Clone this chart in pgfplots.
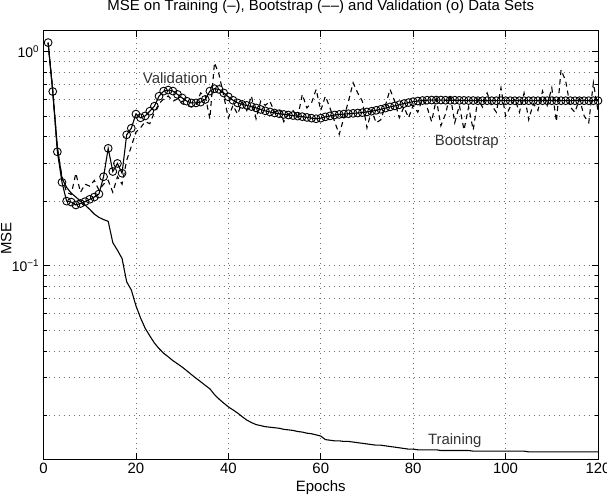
\documentclass[border=0pt]{standalone}
\usepackage{fontspec}
\setmainfont{Liberation Sans}
\usepackage{pgfplots}
\usepackage{pgfplotstable}
\pgfplotsset{compat=1.18}

\pgfplotstableread{
ep train boot val
1 1.10 1.10 1.10
2 0.65 0.66 0.65
3 0.36 0.35 0.34
4 0.255 0.26 0.245
5 0.232 0.22 0.200
6 0.218 0.215 0.198
7 0.209 0.27 0.192
8 0.200 0.22 0.195
9 0.192 0.24 0.199
10 0.183 0.235 0.204
11 0.174 0.25 0.209
12 0.168 0.225 0.216
13 0.164 0.24 0.260
14 0.161 0.25 0.353
15 0.128 0.22 0.275
16 0.118 0.26 0.300
17 0.108 0.24 0.270
18 0.084 0.31 0.408
19 0.077 0.36 0.438
20 0.065 0.42 0.510
21 0.057 0.44 0.490
22 0.051 0.47 0.500
23 0.047 0.46 0.526
24 0.0435 0.52 0.555
25 0.041 0.57 0.618
26 0.039 0.60 0.653
27 0.0375 0.62 0.660
28 0.036 0.585 0.653
29 0.0348 0.60 0.630
30 0.0336 0.57 0.607
31 0.0323 0.56 0.586
32 0.0310 0.55 0.575
33 0.0298 0.56 0.575
34 0.0287 0.64 0.580
35 0.0276 0.62 0.597
36 0.0266 0.485 0.653
37 0.0250 0.885 0.670
38 0.0238 0.78 0.665
39 0.0228 0.62 0.640
40 0.0219 0.49 0.614
41 0.0212 0.56 0.592
42 0.0205 0.51 0.575
43 0.0197 0.58 0.566
44 0.0190 0.53 0.560
45 0.0185 0.62 0.553
46 0.0181 0.485 0.545
47 0.0179 0.586 0.536
48 0.0177 0.56 0.528
49 0.0176 0.586 0.522
50 0.0175 0.52 0.516
51 0.0174 0.54 0.512
52 0.0172 0.47 0.508
53 0.0171 0.51 0.505
54 0.0170 0.53 0.502
55 0.0168 0.49 0.499
56 0.0167 0.63 0.496
57 0.0165 0.545 0.492
58 0.0164 0.575 0.488
59 0.0162 0.665 0.485
60 0.0160 0.53 0.488
61 0.0154 0.618 0.495
62 0.0153 0.545 0.500
63 0.0152 0.47 0.505
64 0.0152 0.41 0.508
65 0.0151 0.49 0.510
66 0.0151 0.586 0.512
67 0.0150 0.714 0.514
68 0.0149 0.64 0.516
69 0.0148 0.586 0.518
70 0.0147 0.44 0.522
71 0.0146 0.53 0.526
72 0.0145 0.464 0.531
73 0.0145 0.48 0.537
74 0.0144 0.56 0.544
75 0.0143 0.665 0.551
76 0.0142 0.586 0.557
77 0.0141 0.49 0.564
78 0.0140 0.55 0.571
79 0.0139 0.49 0.577
80 0.0139 0.56 0.583
81 0.0138 0.52 0.587
82 0.0138 0.60 0.590
83 0.0138 0.55 0.592
84 0.0138 0.47 0.593
85 0.0138 0.60 0.593
86 0.0137 0.45 0.593
87 0.0137 0.51 0.592
88 0.0137 0.63 0.592
89 0.0137 0.465 0.592
90 0.0137 0.56 0.591
91 0.0137 0.43 0.591
92 0.0137 0.55 0.590
93 0.0136 0.43 0.590
94 0.0136 0.60 0.589
95 0.0136 0.55 0.589
96 0.0136 0.64 0.589
97 0.0136 0.56 0.589
98 0.0136 0.52 0.589
99 0.0136 0.676 0.589
100 0.0136 0.50 0.589
101 0.0136 0.55 0.589
102 0.0136 0.60 0.589
103 0.0136 0.52 0.589
104 0.0136 0.64 0.589
105 0.0135 0.48 0.589
106 0.0135 0.57 0.589
107 0.0135 0.53 0.589
108 0.0135 0.653 0.589
109 0.0135 0.56 0.589
110 0.0135 0.676 0.589
111 0.0135 0.47 0.589
112 0.0135 0.82 0.589
113 0.0135 0.73 0.589
114 0.0135 0.55 0.589
115 0.0135 0.52 0.589
116 0.0135 0.60 0.589
117 0.0135 0.50 0.589
118 0.0135 0.465 0.589
119 0.0135 0.714 0.589
120 0.0135 0.53 0.589
}\datatable

\begin{document}
\begin{tikzpicture}[font=\fontsize{15}{18}\selectfont]
\useasboundingbox (-43.5bp,-39bp) rectangle (563.5bp,459bp);
\begin{axis}[
  at={(0,0)}, anchor=south west,
  scale only axis, width=554.5bp, height=428.3bp,
  xmin=0, xmax=120, ymode=log, ymin=0.0125, ymax=1.25,
  xtick={0,20,40,60,80,100,120},
  ytick={0.1,1},
  yticklabels={10\textsuperscript{−1},10\textsuperscript{0}},
  yticklabel style={xshift=-1bp, font=\fontsize{14}{16}\selectfont},
  xticklabel style={yshift=-1bp},
  minor ytick={0.02,0.03,0.04,0.05,0.06,0.07,0.08,0.09,0.2,0.3,0.4,0.5,0.6,0.7,0.8,0.9},
  tick align=inside,
  major tick length=6bp, minor tick length=3bp,
  tick style={black, line width=0.6pt},
  axis line style={line width=0.9pt},
  grid=both,
  major grid style={black!55, line width=0.6pt, dash pattern=on 1bp off 4bp},
  minor grid style={black!55, line width=0.6pt, dash pattern=on 1bp off 4bp},
  /pgf/number format/assume math mode=true,
  title={MSE on Training (–), Bootstrap (–\kern0.5pt–) and Validation (o) Data Sets},
  title style={at={(axis description cs:0.5,1.0413)}, anchor=center},
  xlabel={Epochs},
  xlabel style={at={(axis description cs:0.5,-0.0677)}, anchor=center},
  ylabel={MSE},
  ylabel style={at={(axis description cs:-0.067,0.515)}, anchor=center},
  clip=true,
]
\addplot[black, line width=1.1pt] table[x=ep, y=train] {\datatable};
\addplot[black, line width=1.1pt, dash pattern=on 5bp off 4bp] table[x=ep, y=boot] {\datatable};
\addplot[black, line width=1.1pt, mark=o, mark size=3.9bp, mark options={solid, line width=0.9pt}] table[x=ep, y=val] {\datatable};
\node[text=black!80] at (axis cs:28.5,0.75) {Validation};
\node[text=black!80] at (axis cs:91.6,0.38) {Bootstrap};
\node[text=black!80] at (axis cs:89,0.0153) {Training};
\end{axis}
\end{tikzpicture}
\end{document}
